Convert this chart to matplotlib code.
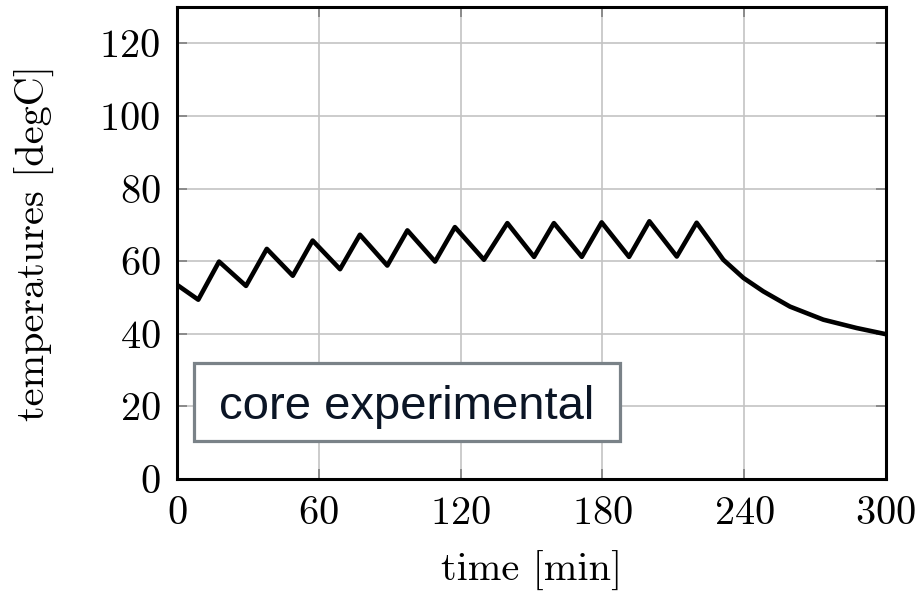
import matplotlib
matplotlib.use("Agg")
import matplotlib.pyplot as plt
from matplotlib.patches import Rectangle

# 读取自图片的数据点
time_min = [0, 9.0, 17.8, 29.2, 38.0, 49.0, 57.4, 69.0, 77.4, 89.0, 97.5,
            109.2, 117.6, 129.9, 139.8, 151.1, 159.5, 171.3, 179.7, 191.3, 199.9,
            211.5, 219.9, 225.6, 231.2, 239.7, 248.1, 259.4, 273.5, 287.6, 300.0]
temp_core = [53.5, 49.4, 59.9, 53.2, 63.4, 56.0, 65.7, 57.8, 67.3, 58.8, 68.5,
             59.9, 69.4, 60.4, 70.5, 61.2, 70.5, 61.2, 70.7, 61.2, 71.0,
             61.3, 70.6, 65.5, 60.4, 55.4, 51.7, 47.5, 43.9, 41.6, 39.9]

x_ticks = [0, 60, 120, 180, 240, 300]
y_ticks = [0, 20, 40, 60, 80, 100, 120]
label_text = "core experimental"

plt.rcParams['font.family'] = ['cmr10', 'DejaVu Serif']
plt.rcParams['axes.formatter.use_mathtext'] = True
plt.rcParams['mathtext.fontset'] = 'cm'

fig = plt.figure(figsize=(9.19, 5.93), dpi=100)
ax = fig.add_axes([0.1926, 0.1922, 0.964 - 0.1926, 0.988 - 0.1922])

ax.plot(time_min, temp_core, color='black', linewidth=3.3, solid_joinstyle='round', zorder=3)

ax.set_xlim(0, 300)
ax.set_ylim(0, 130)
ax.set_xticks(x_ticks)
ax.set_yticks(y_ticks)
ax.grid(True, color='#c4c4c4', linewidth=1.2, zorder=0)
ax.set_axisbelow(True)

for sp in ax.spines.values():
    sp.set_linewidth(2.2)
    sp.set_color('black')

ax.tick_params(direction='in', length=7, width=1.2, color='#808080',
               labelsize=29, pad=12, top=True, right=True)

ax.set_xlabel("time [min]", fontsize=29, labelpad=14)
ax.set_ylabel("temperatures [degC]", fontsize=29, labelpad=32)

# 图内标注框
box = Rectangle((7.2, 10.5), 180.3, 21.5, facecolor='white', edgecolor='#7a8288',
                linewidth=2.3, zorder=4)
ax.add_patch(box)
ax.text(97.3, 19.8, label_text, ha='center', va='center', fontsize=34,
        color='#0b1525', family=['Liberation Sans', 'DejaVu Sans'], zorder=5)

fig.savefig("out.png", dpi=100)
